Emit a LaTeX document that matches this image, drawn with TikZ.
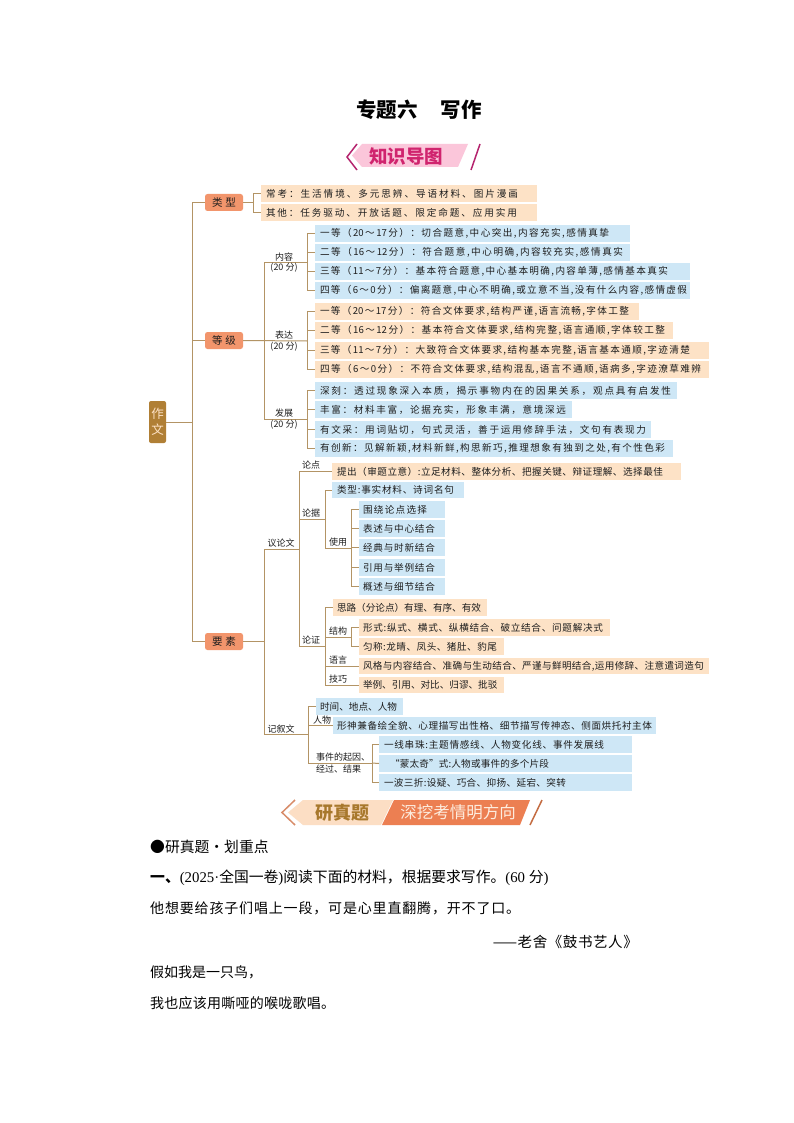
\documentclass[tikz,border=0pt]{standalone}
\usepackage{fontspec}
\setmainfont{Noto Sans CJK SC}
\newfontfamily\latf{Liberation Serif}
\makeatletter
\newcommand\sprd[2]{\hbox to #1pt{\@tfor\@ch:=#2\do{\@ch\hskip 0pt plus 1fil\relax}\unskip}}
\makeatother
\newcommand\flp{\char"FF08\relax}
\newcommand\frp{\char"FF09\relax}
\newcommand\fcl{\char"FF1A\relax}
\newcommand\ftl{\char"FF5E\relax}
\newcommand\fcm{\char"FF0C\relax}
\definecolor{peach}{HTML}{FDE2C6}
\definecolor{sky}{HTML}{CEE7F6}
\definecolor{conn}{HTML}{B39465}
\definecolor{salmon}{HTML}{F2956C}
\definecolor{ochre}{HTML}{B07F35}
\definecolor{inkc}{HTML}{1E1E1E}
\definecolor{bpink}{HTML}{FBC6DA}
\definecolor{bmag}{HTML}{B5246E}
\definecolor{bmagt}{HTML}{D0246E}
\definecolor{bpeach}{HTML}{FCDEC4}
\definecolor{borange}{HTML}{EC7F52}
\definecolor{bchev}{HTML}{D88C69}
\definecolor{bslash}{HTML}{C46C42}
\definecolor{bbrown}{HTML}{A8782C}
\definecolor{bcream}{HTML}{FDECDE}
\tikzset{
  bar/.style={inner sep=0pt,outer sep=0pt,anchor=north west,text=inkc,font=\fontsize{9.6}{9.6}\selectfont},
  pe/.style={bar,fill=peach},
  bl/.style={bar,fill=sky},
  cat/.style={inner sep=0pt,outer sep=0pt,anchor=north west,fill=salmon,rounded corners=2.5pt,minimum width=38pt,minimum height=17pt,text=inkc,font=\fontsize{10.5}{10.5}\selectfont},
  lbl/.style={inner sep=0pt,text=inkc,font=\fontsize{9}{10}\selectfont},
  wire/.style={draw=conn,line width=1pt},
  line/.style={inner sep=0pt,anchor=west,text=black,font=\fontsize{14}{14}\selectfont}
}
% name, x1, y1, x2, y2, style, text start, text end, text
\newcommand\bx[9]{%
  \pgfmathsetmacro\bw{#4-#2}\pgfmathsetmacro\bh{#5-#3}%
  \pgfmathsetmacro\ba{#7-#2}\pgfmathsetmacro\bt{#8-#7}%
  \node[#6,minimum width=\bw pt,minimum height=\bh pt] (#1) at (#2,#3)
    {\hbox to \bw pt{\hskip\ba pt\sprd{\bt}{#9}\hss}};}
\begin{document}
\begin{tikzpicture}[x=1pt,y=-1pt]
\useasboundingbox (0,0) rectangle (794,1123);
\fill[white] (0,0) rectangle (794,1123);

% title
\node[inner sep=0pt,font=\bfseries\fontsize{20.5}{20.5}\selectfont] (title1) at (387,110) {专题六};
\node[inner sep=0pt,font=\bfseries\fontsize{20.5}{20.5}\selectfont] (title2) at (461,110) {写作};

% banner 1
\fill[bpink] (352,155.5) -- (362,144) -- (468,144) -- (458,167) -- (362,167) -- cycle;
\draw[draw=bmag,line width=1.5pt] (357,144) -- (347,157) -- (357,170);
\draw[draw=bmag,line width=1.5pt] (480,144) -- (471,170);
\node[inner sep=0pt,text=bmagt,font=\bfseries\fontsize{18.5}{18.5}\selectfont] (bn1) at (406,156) {知识导图};

% tree boxes
\node[inner sep=0pt,outer sep=0pt,anchor=north west,fill=ochre,rounded corners=2pt,minimum width=17pt,minimum height=42pt,align=center,text=peach,font=\fontsize{12.5}{16}\selectfont] (root) at (149,401) {作\\文};
\node[cat] (lx) at (205,194) {类\hspace{3pt}型};
\node[cat] (dj) at (205,332) {等\hspace{3pt}级};
\node[cat] (ys) at (205,633) {要\hspace{3pt}素};

\bx{a1}{261}{185}{537}{202}{pe}{266}{518}{常考\fcl 生活情境、多元思辨、导语材料、图片漫画}
\bx{a2}{261}{204}{537}{221}{pe}{266}{517}{其他\fcl 任务驱动、开放话题、限定命题、应用实用}

\bx{b1}{315}{225}{630}{242}{bl}{320}{609}{一等\flp{20}\ftl{17}分\frp\fcl 切合题意,中心突出,内容充实,感情真挚}
\bx{b2}{315}{244}{630}{261}{bl}{320}{623}{二等\flp{16}\ftl{12}分\frp\fcl 符合题意,中心明确,内容较充实,感情真实}
\bx{b3}{315}{263}{690}{280}{bl}{320}{668}{三等\flp{11}\ftl 7分\frp\fcl 基本符合题意,中心基本明确,内容单薄,感情基本真实}
\bx{b4}{315}{282}{690}{299}{bl}{320}{687}{四等\flp 6\ftl 0分\frp\fcl 偏离题意,中心不明确,或立意不当,没有什么内容,感情虚假}

\bx{c1}{315}{303}{639}{320}{pe}{320}{629}{一等\flp{20}\ftl{17}分\frp\fcl 符合文体要求,结构严谨,语言流畅,字体工整}
\bx{c2}{315}{322}{673}{339}{pe}{320}{665}{二等\flp{16}\ftl{12}分\frp\fcl 基本符合文体要求,结构完整,语言通顺,字体较工整}
\bx{c3}{315}{342}{709}{359}{pe}{320}{690}{三等\flp{11}\ftl 7分\frp\fcl 大致符合文体要求,结构基本完整,语言基本通顺,字迹清楚}
\bx{c4}{315}{361}{709}{378}{pe}{320}{701}{四等\flp 6\ftl 0分\frp\fcl 不符合文体要求,结构混乱,语言不通顺,语病多,字迹潦草难辨}

\bx{d1}{315}{382}{677}{399}{bl}{320}{671}{深刻\fcl 透过现象深入本质\fcm 揭示事物内在的因果关系\fcm 观点具有启发性}
\bx{d2}{315}{401}{572}{418}{bl}{320}{566}{丰富\fcl 材料丰富\fcm 论据充实\fcm 形象丰满\fcm 意境深远}
\bx{d3}{315}{421}{651}{438}{bl}{320}{646}{有文采\fcl 用词贴切\fcm 句式灵活\fcm 善于运用修辞手法\fcm 文句有表现力}
\bx{d4}{315}{440}{673}{457}{bl}{320}{665}{有创新\fcl 见解新颖,材料新鲜,构思新巧,推理想象有独到之处,有个性色彩}

\bx{e1}{332}{463}{681}{480}{pe}{337}{663}{提出\flp 审题立意\frp:立足材料、整体分析、把握关键、辩证理解、选择最佳}
\bx{e2}{332}{482}{464}{498}{bl}{337}{454}{类型:事实材料、诗词名句}

\bx{f1}{359}{501}{445}{518}{bl}{363}{427}{围绕论点选择}
\bx{f2}{359}{520}{445}{537}{bl}{363}{435}{表述与中心结合}
\bx{f3}{359}{539}{445}{556}{bl}{363}{435}{经典与时新结合}
\bx{f4}{359}{559}{445}{576}{bl}{363}{435}{引用与举例结合}
\bx{f5}{359}{578}{445}{595}{bl}{363}{435}{概述与细节结合}

\bx{g1}{333}{599}{487}{616}{pe}{337}{479}{思路\flp 分论点\frp 有理、有序、有效}
\bx{g2}{359}{619}{610}{636}{pe}{363}{603}{形式:纵式、横式、纵横结合、破立结合、问题解决式}
\bx{g3}{359}{638}{504}{655}{pe}{363}{497}{匀称:龙晴、凤头、猪肚、豹尾}
\bx{g4}{359}{658}{709}{674}{pe}{363}{704}{风格与内容结合、准确与生动结合、严谨与鲜明结合,运用修辞、注意遣词造句}
\bx{g5}{359}{677}{504}{693}{pe}{363}{497}{举例、引用、对比、归谬、批驳}

\bx{h1}{316}{698}{403}{715}{bl}{320}{397}{时间、地点、人物}
\bx{h2}{333}{717}{656}{734}{bl}{337}{652}{形神兼备绘全貌、心理描写出性格、细节描写传神态、侧面烘托衬主体}
\bx{h3}{379}{736}{632}{753}{bl}{384}{604}{一线串珠:主题情感线、人物变化线、事件发展线}
\bx{h4}{379}{755}{632}{772}{bl}{390}{549}{“蒙太奇”式:人物或事件的多个片段}
\bx{h5}{379}{774}{632}{791}{bl}{384}{566}{一波三折:设疑、巧合、抑扬、延宕、突转}

% junction coordinates
\coordinate (j0) at (192,422);
\coordinate (j1) at (253,202);
\coordinate (j2a) at (264,262);
\coordinate (j2c) at (264,419);
\coordinate (j3a) at (307,262);
\coordinate (j3b) at (307,341);
\coordinate (j3c) at (307,419);
\coordinate (k0a) at (264,549);
\coordinate (k0b) at (264,734);
\coordinate (k1a) at (299,471);
\coordinate (k1b) at (299,519);
\coordinate (k1c) at (299,549);
\coordinate (k1d) at (299,646);
\coordinate (k2a) at (325,519);
\coordinate (k2b) at (325,548);
\coordinate (k3) at (351,548);
\coordinate (k4a) at (325,646);
\coordinate (k4b) at (325,637);
\coordinate (k4c) at (351,637);
\coordinate (m1) at (308,734);
\coordinate (m2) at (308,725);
\coordinate (m3) at (308,763);
\coordinate (m4) at (372,763);

% connectors
\draw[wire] (root.east) -- (j0);
\draw[wire] (j0 |- lx.west) -- (j0 |- ys.west);
\draw[wire] (j0 |- lx.west) -- (lx.west);
\draw[wire] (j0 |- dj.west) -- (dj.west);
\draw[wire] (j0 |- ys.west) -- (ys.west);
\draw[wire] (lx.east) -- (j1 |- lx.east);
\draw[wire] (j1 |- a1.west) -- (a1.west);
\draw[wire] (j1 |- a2.west) -- (a2.west);
\draw[wire] (j1 |- a1.west) -- (j1 |- a2.west);

\draw[wire] (dj.east) -- (j3b);
\draw[wire] (j2a) -- (j2c);
\draw[wire] (j2a) -- (j3a);
\draw[wire] (j2c) -- (j3c);
\draw[wire] (j3a |- b1.west) -- (j3a |- b4.west);
\draw[wire] (j3b |- c1.west) -- (j3b |- c4.west);
\draw[wire] (j3c |- d1.west) -- (j3c |- d4.west);
\foreach \n in {b1,b2,b3,b4,c1,c2,c3,c4,d1,d2,d3,d4}
  \draw[wire] (j3a |- \n.west) -- (\n.west);

\draw[wire] (ys.east) -- (k0a |- ys.east);
\draw[wire] (k0a) -- (k0b);
\draw[wire] (k0a) -- (k1c);
\draw[wire] (k1a) -- (k1d);
\draw[wire] (k1a) -- (k1a -| e1.west);
\draw[wire] (k1b) -- (k2a);
\draw[wire] (k2a |- e2.west) -- (k2b);
\draw[wire] (k2a |- e2.west) -- (e2.west);
\draw[wire] (k2b) -- (k3);
\draw[wire] (k3 |- f1.west) -- (k3 |- f5.west);
\foreach \n in {f1,f2,f3,f4,f5}
  \draw[wire] (k3 |- \n.west) -- (\n.west);

\draw[wire] (k1d) -- (k4a);
\draw[wire] (k4a |- g1.west) -- (k4a |- g5.west);
\draw[wire] (k4a |- g1.west) -- (g1.west);
\draw[wire] (k4a |- g4.west) -- (g4.west);
\draw[wire] (k4a |- g5.west) -- (g5.west);
\draw[wire] (k4b) -- (k4c);
\draw[wire] (k4c |- g2.west) -- (k4c |- g3.west);
\draw[wire] (k4c |- g2.west) -- (g2.west);
\draw[wire] (k4c |- g3.west) -- (g3.west);

\draw[wire] (k0b) -- (m1);
\draw[wire] (m1 |- h1.west) -- (m3);
\draw[wire] (m1 |- h1.west) -- (h1.west);
\draw[wire] (m2) -- (m2 -| h2.west);
\draw[wire] (m3) -- (m4);
\draw[wire] (m4 |- h3.west) -- (m4 |- h5.west);
\draw[wire] (m4 |- h3.west) -- (h3.west);
\draw[wire] (m4) -- (h4.west);
\draw[wire] (m4 |- h5.west) -- (h5.west);

% labels
\node[lbl] (l1) at (284,257) {内容};
\node[lbl] (l1b) at (284,268) {(20 分)};
\node[lbl] (l2) at (284,335) {表达};
\node[lbl] (l2b) at (284,347) {(20 分)};
\node[lbl] (l3) at (284,413) {发展};
\node[lbl] (l3b) at (284,425) {(20 分)};
\node[lbl] (l4) at (311,465) {论点};
\node[lbl] (l5) at (311,513) {论据};
\node[lbl] (l6) at (338,542) {使用};
\node[lbl] (l7) at (281,543) {议论文};
\node[lbl] (l8) at (311,640) {论证};
\node[lbl] (l9) at (338,631) {结构};
\node[lbl] (l10) at (338,660) {语言};
\node[lbl] (l11) at (338,679) {技巧};
\node[lbl] (l12) at (281,729) {记叙文};
\node[lbl] (l13) at (322,720) {人物};
\node[lbl,anchor=west] (l14) at (316,757) {事件的起因、};
\node[lbl,anchor=west] (l15) at (316,769) {经过、结果};

% banner 2
\fill[bpeach] (288,812.5) -- (303,800) -- (393,800) -- (381,825) -- (303,825) -- cycle;
\fill[borange] (394,800) -- (530,800) -- (520,825) -- (382,825) -- cycle;
\draw[draw=bchev,line width=1.5pt] (295,800) -- (282,812.5) -- (295,825);
\draw[draw=bslash,line width=1.5pt] (542,800) -- (530,825);
\node[inner sep=0pt,text=bbrown,font=\bfseries\fontsize{18}{18}\selectfont] (bn2) at (342,812.5) {研真题};
\node[inner sep=0pt,text=bcream,font=\fontsize{16.5}{16.5}\selectfont] (bn3) at (458,812.5) {深挖考情明方向};

% body text
\node[line,font=\fontsize{14.8}{14.8}\selectfont] (t1) at (150,847) {\sprd{106}{●研真题·划重点}};
\node[line,font=\fontsize{14.8}{14.8}\selectfont] (t2) at (150,878) {\textbf{一、}{\latf (2025·}全国一卷{\latf )}阅读下面的材料\fcm 根据要求写作。{\latf (60 }分{\latf )}};
\node[line] (t3) at (150,908) {\sprd{370}{他想要给孩子们唱上一段\fcm 可是心里直翻腾\fcm 开不了口。}};
\node[line,anchor=east,font=\fontsize{14.5}{14.5}\selectfont] (t4) at (638,942) {\sprd{145}{{——}老舍《鼓书艺人》}};
\node[line] (t5) at (150,972) {\sprd{107}{假如我是一只鸟\fcm}};
\node[line] (t6) at (150,1003) {\sprd{185}{我也应该用嘶哑的喉咙歌唱。}};
\end{tikzpicture}
\end{document}
